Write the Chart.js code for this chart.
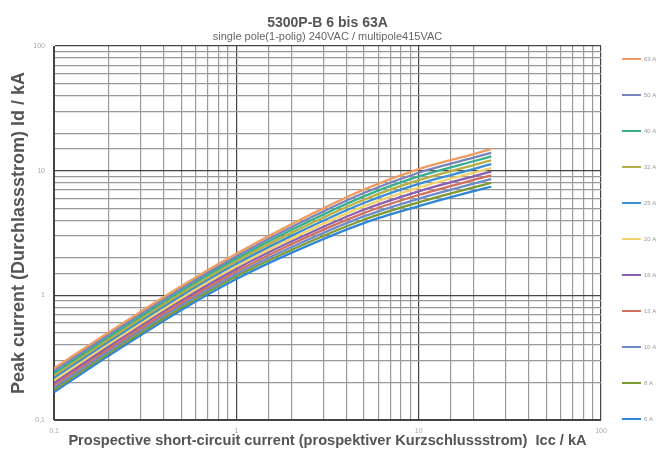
<!DOCTYPE html>
<html>
<head>
<meta charset="utf-8">
<script src="https://cdn.jsdelivr.net/npm/chart.js@4.4.1/dist/chart.umd.min.js"></script>
<style>
  html, body { margin: 0; padding: 0; background: #fff; }
  #wrap { width: 662px; height: 453px; }
</style>
</head>
<body>
<div id="wrap"><canvas id="chart" width="662" height="453"></canvas></div>
<script>
var icc = [0.1, 0.2, 0.5, 1, 2, 5, 10, 20, 25];

var ratings = ['63 A', '50 A', '40 A', '32 A', '25 A', '20 A', '16 A', '13 A', '10 A', '8 A', '6 A'];
var colors = ['#EE9C62', '#7884B8', '#38AE8C', '#B6AE42', '#3C8ED0', '#F3D46C', '#8C5EAE', '#D0715F', '#6E8BC8', '#7C9A32', '#2F86D6'];

var id63 = [0.260, 0.506, 1.19, 2.16, 3.71, 7.04, 10.3, 13.6, 14.9];
var id50 = [0.249, 0.485, 1.14, 2.06, 3.52, 6.62, 9.62, 12.7, 13.9];
var id40 = [0.238, 0.464, 1.09, 1.97, 3.34, 6.22, 8.99, 11.9, 13.0];
var id32 = [0.228, 0.445, 1.04, 1.88, 3.17, 5.85, 8.39, 11.1, 12.1];
var id25 = [0.218, 0.426, 0.997, 1.79, 3.00, 5.50, 7.83, 10.3, 11.3];
var id20 = [0.208, 0.408, 0.953, 1.71, 2.85, 5.17, 7.31, 9.65, 10.5];
var id16 = [0.199, 0.391, 0.912, 1.63, 2.70, 4.86, 6.83, 9.01, 9.81];
var id13 = [0.191, 0.374, 0.873, 1.55, 2.57, 4.57, 6.38, 8.42, 9.15];
var id10 = [0.182, 0.359, 0.835, 1.48, 2.43, 4.30, 5.95, 7.86, 8.54];
var id8 = [0.175, 0.344, 0.799, 1.42, 2.31, 4.04, 5.56, 7.34, 7.97];
var id6 = [0.167, 0.329, 0.764, 1.35, 2.19, 3.80, 5.19, 6.85, 7.43];

var series = [id63, id50, id40, id32, id25, id20, id16, id13, id10, id8, id6];

var tickLabels = { '0.1': '0,1', '1': '1', '10': '10', '100': '100' };

function isDecade(v) {
    var l = Math.log10(v);
    return Math.abs(l - Math.round(l)) < 1e-6;
}

var datasets = series.map(function (vals, i) {
    return {
        label: ratings[i],
        data: vals.map(function (v, j) { return { x: icc[j], y: v }; }),
        borderColor: colors[i],
        backgroundColor: colors[i],
        borderWidth: 2.3,
        pointRadius: 0,
        cubicInterpolationMode: 'monotone',
        fill: false
    };
});

var decor = {
    id: 'decor',
    afterDraw: function (chart) {
        var c = chart.ctx;
        var area = chart.chartArea;
        var mid = (area.left + area.right) / 2;
        c.save();
        c.textAlign = 'center';
        c.textBaseline = 'middle';
        c.fillStyle = '#555';
        c.font = 'bold 14px "Liberation Sans", Arial, sans-serif';
        c.fillText('5300P-B 6 bis 63A', mid, 23);
        c.font = '11px "Liberation Sans", Arial, sans-serif';
        c.fillStyle = '#666';
        c.fillText('single pole(1-polig) 240VAC / multipole415VAC', mid, 37);

        // legend
        c.textAlign = 'left';
        c.font = '6px "Liberation Sans", Arial, sans-serif';
        chart.data.datasets.forEach(function (ds, i) {
            var y = 59 + i * 36;
            c.strokeStyle = ds.borderColor;
            c.lineWidth = 2;
            c.beginPath();
            c.moveTo(622, y);
            c.lineTo(641, y);
            c.stroke();
            c.fillStyle = '#999';
            c.fillText(ds.label, 644, y);
        });
        c.restore();
    }
};

function gridColor(ctx) {
    if (!ctx.tick) return '#999';
    return isDecade(ctx.tick.value) ? '#444' : '#999';
}

var ctx = document.getElementById('chart').getContext('2d');

var chart = new Chart(ctx, {
    type: 'line',
    data: { datasets: datasets },
    options: {
        responsive: false,
        animation: false,
        layout: { padding: { left: 0, right: 61, top: 46, bottom: 0 } },
        plugins: {
            legend: { display: false },
            title: { display: false },
            tooltip: { enabled: false }
        },
        scales: {
            x: {
                type: 'logarithmic',
                min: 0.1,
                max: 100,
                grid: { color: gridColor, lineWidth: 1.2, drawTicks: false },
                border: { color: '#444' },
                ticks: {
                    autoSkip: false,
                    maxRotation: 0,
                    padding: 7,
                    color: '#aaa',
                    font: { size: 7 },
                    callback: function (v) {
                        return isDecade(v) ? tickLabels[String(Math.round(v * 10) / 10)] : '';
                    }
                },
                title: {
                    display: true,
                    text: 'Prospective short-circuit current (prospektiver Kurzschlussstrom)  Icc / kA',
                    color: '#555',
                    font: { family: '"Liberation Sans", Arial, sans-serif', size: 14.6, weight: 'bold' },
                    padding: { top: 0, bottom: 3 }
                },
                afterFit: function (s) { s.height = 33; }
            },
            y: {
                type: 'logarithmic',
                min: 0.1,
                max: 100,
                grid: { color: gridColor, lineWidth: 1.2, drawTicks: false },
                border: { color: '#444' },
                ticks: {
                    autoSkip: false,
                    padding: 9,
                    color: '#aaa',
                    font: { size: 7 },
                    callback: function (v) {
                        return isDecade(v) ? tickLabels[String(Math.round(v * 10) / 10)] : '';
                    }
                },
                title: {
                    display: true,
                    text: 'Peak current (Durchlassstrom) Id / kA',
                    color: '#555',
                    font: { family: '"Liberation Sans", Arial, sans-serif', size: 18, weight: 'bold' },
                    padding: { top: 8, bottom: 0 }
                },
                afterFit: function (s) { s.width = 54; }
            }
        }
    },
    plugins: [decor]
});
</script>
</body>
</html>
